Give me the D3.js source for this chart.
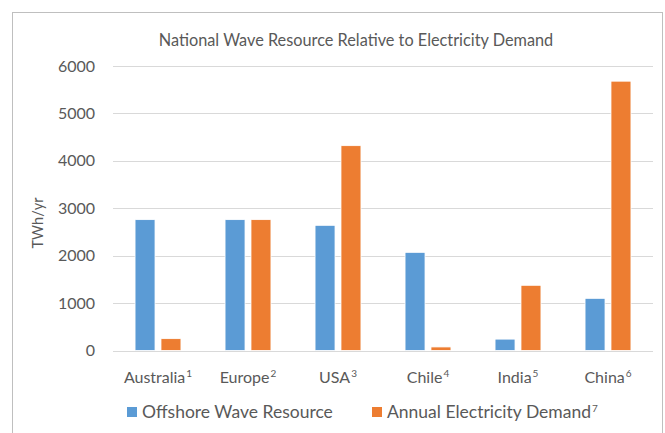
<!DOCTYPE html>
<html>
<head>
<meta charset="utf-8">
<script src="https://cdn.jsdelivr.net/npm/d3@7"></script>
<style>
  body { margin: 0; background: #fff; }
  text { font-family: Lato, "Open Sans", sans-serif; fill: #595959; }
</style>
</head>
<body>
<div id="chart"></div>
<script>
const categories = ["Australia", "Europe", "USA", "Chile", "India", "China"];
const notes = ["1", "2", "3", "4", "5", "6"];
const waveResource = [2760, 2760, 2640, 2070, 240, 1100];
const demand = [250, 2760, 4320, 75, 1375, 5680];
const yTicks = [0, 1000, 2000, 3000, 4000, 5000, 6000];
const seriesNames = ["Offshore Wave Resource", "Annual Electricity Demand"];
const colors = ["#5B9BD5", "#ED7D31"];

const width = 665;
const height = 433;
const margin = { top: 66, left: 113, right: 12, bottom: 82 };

const svg = d3.select("#chart")
    .append("svg")
    .attr("width", width)
    .attr("height", height);

// outer chart border
svg.append("rect")
    .attr("x", 12.5).attr("y", 12.5)
    .attr("width", 650).attr("height", 440)
    .attr("fill", "none")
    .attr("stroke", "#BFBFBF");

svg.append("text")
    .attr("x", 356).attr("y", 46)
    .attr("text-anchor", "middle")
    .style("font-size", "16.3px")
    .text("National Wave Resource Relative to Electricity Demand");

const x = d3.scaleBand()
    .domain(categories)
    .range([margin.left, width - margin.right]);

const y = d3.scaleLinear()
    .domain([0, 6000])
    .range([height - margin.bottom - 0.5, margin.top]);

const inner = d3.scaleBand()
    .domain([0, 1])
    .range([0, x.bandwidth()])
    .paddingInner(0.23)
    .paddingOuter(0.85);

// grid lines
svg.append("g")
    .selectAll("line")
    .data(yTicks)
    .join("line")
    .attr("x1", margin.left)
    .attr("x2", width - margin.right)
    .attr("y1", d => Math.round(y(d)) + 0.5)
    .attr("y2", d => Math.round(y(d)) + 0.5)
    .attr("stroke", "#D9D9D9");

// y axis labels
const yAxis = svg.append("g")
    .attr("transform", `translate(${margin.left},0)`)
    .call(d3.axisLeft(y).tickValues(yTicks).tickFormat(d3.format("d")).tickSize(0).tickPadding(18));
yAxis.select(".domain").remove();
yAxis.selectAll("text")
    .style("font-size", "16px")
    .style("font-family", "Lato, 'Open Sans', sans-serif")
    .attr("fill", "#595959");

svg.append("text")
    .attr("transform", "translate(43,223) rotate(-90)")
    .attr("text-anchor", "middle")
    .style("font-size", "14.5px")
    .text("TWh/yr");

// bars
const series = [waveResource, demand];
series.forEach((vals, si) => {
    svg.append("g")
        .selectAll("rect")
        .data(categories)
        .join("rect")
        .attr("x", (c) => x(c) + inner(si))
        .attr("width", inner.bandwidth())
        .attr("y", (c, i) => y(vals[i]))
        .attr("height", (c, i) => y(0) - y(vals[i]))
        .attr("fill", colors[si])
        .attr("stroke", "#fff")
        .attr("stroke-width", 0.8);
});

// category labels with superscript notes
const cat = svg.append("g")
    .selectAll("text")
    .data(categories)
    .join("text")
    .attr("x", c => x(c) + x.bandwidth() / 2)
    .attr("y", 383)
    .attr("text-anchor", "middle")
    .style("font-size", "16px");
cat.append("tspan").text(c => c);
cat.append("tspan")
    .attr("dx", 1)
    .attr("dy", -6)
    .style("font-size", "10px")
    .text((c, i) => notes[i]);

// legend
const legendX = [127, 372];
const legend = svg.append("g")
    .selectAll("g")
    .data(seriesNames)
    .join("g")
    .attr("transform", (d, i) => `translate(${legendX[i]},407)`);
legend.append("rect")
    .attr("width", 10).attr("height", 10)
    .attr("fill", (d, i) => colors[i]);
const lt = legend.append("text")
    .attr("x", 15).attr("y", 10.5)
    .style("font-size", "17.5px");
lt.append("tspan").text(d => d);
lt.filter((d, i) => i === 1)
    .append("tspan")
    .attr("dx", 1).attr("dy", -6)
    .style("font-size", "10px")
    .text("7");
</script>
</body>
</html>
